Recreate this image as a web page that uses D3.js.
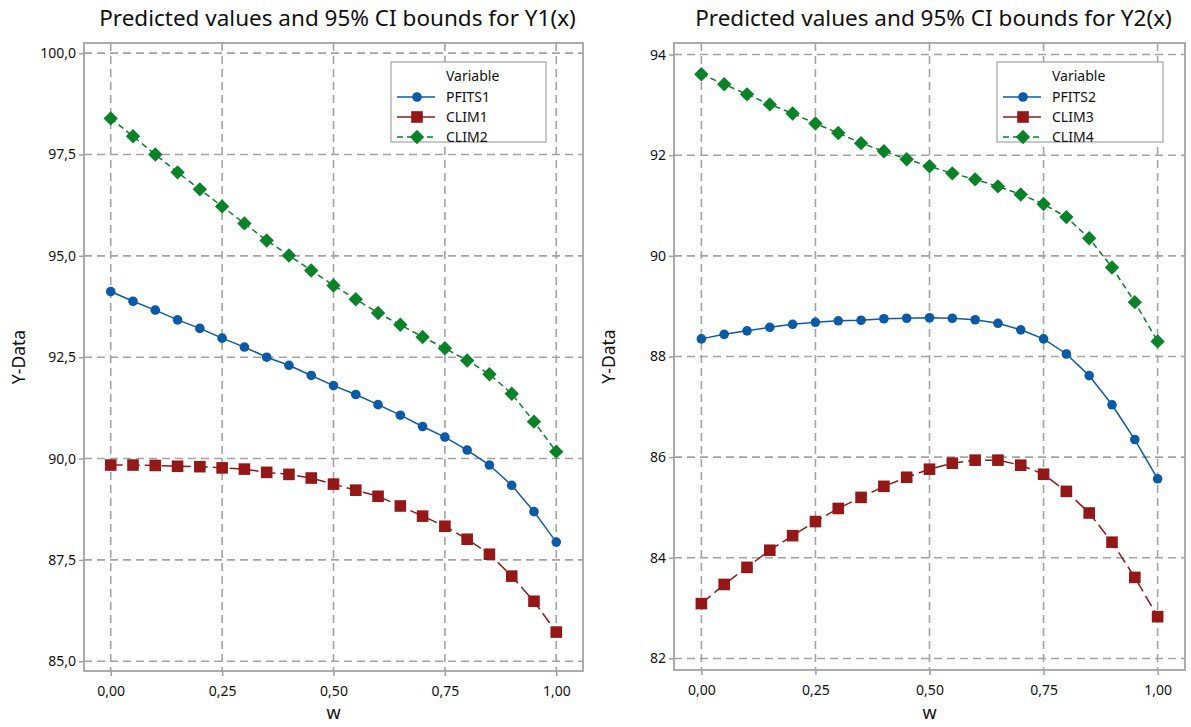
<!DOCTYPE html>
<html>
<head>
<meta charset="utf-8">
<script src="https://cdn.jsdelivr.net/npm/d3@7"></script>
<style>
  body { margin: 0; background: #fff; }
  svg text { font-family: "Noto Sans", "Open Sans", sans-serif; fill: #111; }
</style>
</head>
<body>
<svg id="chart" width="1191" height="727"></svg>
<script>
// w values (x axis)
const wValues = [0, 0.05, 0.10, 0.15, 0.20, 0.25, 0.30, 0.35, 0.40, 0.45, 0.50,
                 0.55, 0.60, 0.65, 0.70, 0.75, 0.80, 0.85, 0.90, 0.95, 1.00]

// Y1(x) panel
const pfits1 = [94.12, 93.88, 93.66, 93.42, 93.21, 92.97, 92.75, 92.50, 92.30, 92.05, 91.80,
                91.58, 91.33, 91.07, 90.79, 90.53, 90.21, 89.84, 89.34, 88.69, 87.94]
const clim1  = [89.84, 89.84, 89.83, 89.81, 89.80, 89.77, 89.74, 89.66, 89.61, 89.52, 89.37,
                89.22, 89.07, 88.83, 88.58, 88.33, 88.01, 87.64, 87.10, 86.48, 85.72]
const clim2  = [98.39, 97.95, 97.50, 97.06, 96.64, 96.22, 95.80, 95.38, 95.01, 94.64, 94.27,
                93.93, 93.59, 93.30, 93.00, 92.72, 92.42, 92.08, 91.60, 90.91, 90.17]

// Y2(x) panel
const pfits2 = [88.35, 88.44, 88.51, 88.58, 88.64, 88.68, 88.71, 88.72, 88.75, 88.76, 88.77,
                88.76, 88.73, 88.66, 88.53, 88.35, 88.05, 87.62, 87.04, 86.35, 85.57]
const clim3  = [83.09, 83.47, 83.81, 84.15, 84.44, 84.72, 84.98, 85.20, 85.42, 85.60, 85.76,
                85.88, 85.94, 85.94, 85.84, 85.66, 85.32, 84.89, 84.31, 83.61, 82.83]
const clim4  = [93.61, 93.41, 93.21, 93.01, 92.83, 92.63, 92.44, 92.24, 92.08, 91.92, 91.78,
                91.64, 91.52, 91.38, 91.22, 91.03, 90.77, 90.35, 89.77, 89.08, 88.30]

const xTicks  = [0, 0.25, 0.5, 0.75, 1]
const y1Ticks = [85, 87.5, 90, 92.5, 95, 97.5, 100]
const y2Ticks = [82, 84, 86, 88, 90, 92, 94]

const BLUE = '#0b5aa8', RED = '#951818', GREEN = '#0a8228', GRID = '#a3a3a3'

const svg = d3.select('#chart')
svg.append('rect').attr('width', 1191).attr('height', 727).attr('fill', '#fff')

const comma = d => d.toFixed(2).replace('.', ',')

drawPanel({
  title: 'Predicted values and 95% CI bounds for Y1(x)',
  left: 84, right: 583, top: 43, bottom: 671,
  yDomain: [84.76, 100.25], yTicks: y1Ticks,
  yFmt: d => d.toFixed(1).replace('.', ','),
  series: [
    {name: 'PFITS1', values: pfits1, color: BLUE,  dash: null,   marker: 'circle'},
    {name: 'CLIM1',  values: clim1,  color: RED,   dash: '12,5', marker: 'square'},
    {name: 'CLIM2',  values: clim2,  color: GREEN, dash: '6,4',  marker: 'diamond'}
  ],
  legend: {x: 391, y: 62, w: 155, h: 80}
})

drawPanel({
  title: 'Predicted values and 95% CI bounds for Y2(x)',
  left: 674, right: 1185, top: 43, bottom: 670,
  yDomain: [81.77, 94.23], yTicks: y2Ticks,
  yFmt: d => d3.format('d')(d),
  series: [
    {name: 'PFITS2', values: pfits2, color: BLUE,  dash: null,   marker: 'circle'},
    {name: 'CLIM3',  values: clim3,  color: RED,   dash: '12,5', marker: 'square'},
    {name: 'CLIM4',  values: clim4,  color: GREEN, dash: '6,4',  marker: 'diamond'}
  ],
  legend: {x: 997, y: 62, w: 166, h: 80}
})

function drawMarker(g, type, color, cx, cy) {
  if (type === 'circle') {
    g.append('circle').attr('cx', cx).attr('cy', cy).attr('r', 4.8).attr('fill', color)
  } else if (type === 'square') {
    g.append('rect').attr('x', cx - 5.8).attr('y', cy - 5.8)
     .attr('width', 11.6).attr('height', 11.6).attr('fill', color)
  } else {
    const s = 7.2
    g.append('path').attr('d', `M${cx},${cy - s}L${cx + s},${cy}L${cx},${cy + s}L${cx - s},${cy}Z`)
     .attr('fill', color)
  }
}

function drawPanel(p) {
  const x = d3.scaleLinear().domain([-0.06, 1.06]).range([p.left, p.right])
  const y = d3.scaleLinear().domain(p.yDomain).range([p.bottom, p.top])
  const g = svg.append('g')

  // title
  g.append('text').attr('x', (p.left + p.right) / 2 + 4).attr('y', 26)
   .attr('text-anchor', 'middle').style('font-size', '22.5px').text(p.title)

  // dashed grid
  g.append('g').selectAll('line').data(xTicks).join('line')
   .attr('x1', d => x(d)).attr('x2', d => x(d)).attr('y1', p.top).attr('y2', p.bottom)
   .attr('stroke', GRID).attr('stroke-width', 1.6).attr('stroke-dasharray', '8,5')
  g.append('g').selectAll('line').data(p.yTicks).join('line')
   .attr('y1', d => y(d)).attr('y2', d => y(d)).attr('x1', p.left).attr('x2', p.right)
   .attr('stroke', GRID).attr('stroke-width', 1.6).attr('stroke-dasharray', '8,5')

  // axes
  const xAxis = g.append('g').attr('transform', `translate(0,${p.bottom})`)
    .call(d3.axisBottom(x).tickValues(xTicks).tickFormat(comma).tickSize(5).tickPadding(10))
  const yAxis = g.append('g').attr('transform', `translate(${p.left},0)`)
    .call(d3.axisLeft(y).tickValues(p.yTicks).tickFormat(p.yFmt).tickSize(5).tickPadding(3))
  for (const a of [xAxis, yAxis]) {
    a.select('.domain').remove()
    a.selectAll('line').attr('stroke', GRID).attr('stroke-width', 1.6)
    a.selectAll('text').style('font-size', '14px').attr('fill', '#111')
  }

  // frame
  g.append('rect').attr('x', p.left).attr('y', p.top)
   .attr('width', p.right - p.left).attr('height', p.bottom - p.top)
   .attr('fill', 'none').attr('stroke', GRID).attr('stroke-width', 1.8)

  // axis titles
  g.append('text').attr('x', x(0.5)).attr('y', 719).attr('text-anchor', 'middle')
   .style('font-size', '18px').text('w')
  g.append('text').attr('transform', `translate(${p.left - 59},${(p.top + p.bottom) / 2}) rotate(-90)`)
   .attr('text-anchor', 'middle').style('font-size', '17.5px').text('Y-Data')

  // series
  const line = d3.line().x((d, i) => x(wValues[i])).y(d => y(d))
  for (const s of p.series) {
    g.append('path').attr('d', line(s.values)).attr('fill', 'none')
     .attr('stroke', s.color).attr('stroke-width', 1.5)
     .attr('stroke-dasharray', s.dash)
    const mg = g.append('g')
    s.values.forEach((v, i) => drawMarker(mg, s.marker, s.color, x(wValues[i]), y(v)))
  }

  // legend
  const L = p.legend
  const lg = g.append('g')
  lg.append('rect').attr('x', L.x).attr('y', L.y).attr('width', L.w).attr('height', L.h)
   .attr('fill', '#fff').attr('stroke', GRID).attr('stroke-width', 1.2)
  lg.append('text').attr('x', L.x + 55).attr('y', L.y + 19).style('font-size', '14px').text('Variable')
  p.series.forEach((s, i) => {
    const cy = L.y + 35 + i * 20
    lg.append('line').attr('x1', L.x + 6).attr('x2', L.x + 44).attr('y1', cy).attr('y2', cy)
      .attr('stroke', s.color).attr('stroke-width', 1.5).attr('stroke-dasharray', s.dash === '6,4' ? '6,4' : null)
    drawMarker(lg, s.marker, s.color, L.x + 26, cy)
    lg.append('text').attr('x', L.x + 55).attr('y', cy + 5).style('font-size', '14px').text(s.name)
  })
}
</script>
</body>
</html>
